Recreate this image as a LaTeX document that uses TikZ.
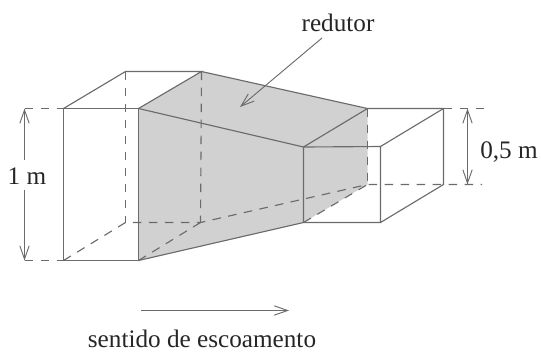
\documentclass[tikz,border=0pt]{standalone}
\usepackage{fontspec}
\setmainfont{Liberation Serif}
\usetikzlibrary{arrows.meta}
\definecolor{linegray}{gray}{0.42}
\definecolor{facegray}{gray}{0.82}
\tikzset{
  edge/.style={draw=linegray,line width=0.85pt},
  hidden/.style={draw=linegray,line width=0.85pt,dash pattern=on 6.5pt off 5.5pt},
  pointer/.style={draw=linegray,line width=0.7pt,-{Straight Barb[length=10pt,width=7pt]}},
  dim/.style={draw=linegray,line width=0.7pt,{Straight Barb[length=10pt,width=7pt]}-{Straight Barb[length=10pt,width=7pt]}},
  lbl/.style={font=\fontsize{18.9}{22}\selectfont,text=black!85,inner sep=0pt,anchor=base}
}
\begin{document}
\begin{tikzpicture}[x=0.75pt,y=-0.75pt]
\useasboundingbox (0,0) rectangle (541,351);
% big box
\coordinate (a1) at (63.5,108.5);
\coordinate (a2) at (138.5,108.5);
\coordinate (a3) at (138.5,260.5);
\coordinate (a4) at (63.5,260.5);
\coordinate (b1) at (125.5,71.5);
\coordinate (b2) at (201.5,71.5);
\coordinate (b3) at (200.5,222.5);
\coordinate (b4) at (125.5,222.5);
% small box
\coordinate (c1) at (303.5,147);
\coordinate (c2) at (380.5,146.5);
\coordinate (c3) at (380.5,222.5);
\coordinate (c4) at (303.5,222.5);
\coordinate (d1) at (367.5,108.5);
\coordinate (d2) at (443.5,108.5);
\coordinate (d3) at (443.5,184.5);
\coordinate (d4) at (367.5,184.5);
% dimension ends
\coordinate (e1) at (24.5,108.5);
\coordinate (e2) at (24.5,260.5);
\coordinate (e3) at (24.5,160);
\coordinate (e4) at (24.5,190);
\coordinate (f1) at (467.5,108.5);
\coordinate (f2) at (467.5,184.5);
\coordinate (g1) at (485,108.5);
\coordinate (g2) at (482,184.5);
\fill[facegray] (a2)--(b2)--(d1)--(d4)--(c4)--(a3)--cycle;
% hidden lines
\path[hidden] (b1)--(b4);
\path[hidden] (b2)--(b3);
\path[hidden] (d1)--(d4);
\path[hidden] (a4)--(b4)--(b3)--(d4)--(g2);
\path[hidden] (a3)--(b3);
\path[hidden] (c4)--(d4);
\path[hidden] (e1)--(a1);
\path[hidden] (e2)--(a4);
\path[hidden] (d2)--(g1);
% big box
\path[edge] (a4)--(a1)--(a2)--(a3)--cycle;
\path[edge] (a1)--(b1)--(b2)--(a2);
% reducer
\path[edge] (b2)--(d1)--(c1)--(a2);
\path[edge] (a3)--(c4)--(c1);
% small box
\path[edge] (c1)--(c2)--(c3)--(c4);
\path[edge] (d1)--(d2)--(d3)--(c3);
\path[edge] (c2)--(d2);
% labels
\node[lbl] (unit1) at (27,184) {1 m};
\node[lbl] (unit2) at (509,158) {0,5 m};
\node[lbl] (reducer) at (338,31) {redutor};
\node[lbl] (flow) at (202,347) {sentido de escoamento};
\coordinate (h1) at (141,310.5);
\coordinate (h2) at (289,310.5);
\coordinate (i1) at (322,38);
\coordinate (i2) at (240,107);
\path[pointer] (e3)--(e1);
\path[pointer] (e4)--(e2);
\path[dim] (f1)--(f2);
\path[pointer] (h1)--(h2);
\path[pointer] (i1)--(i2);
\end{tikzpicture}
\end{document}
